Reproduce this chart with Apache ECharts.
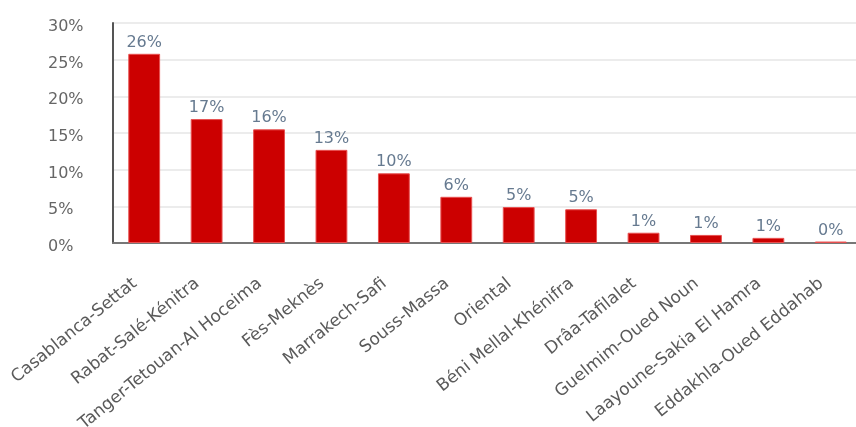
<!DOCTYPE html>
<html><head><meta charset="utf-8">
<script src="https://cdn.jsdelivr.net/npm/echarts@6/dist/echarts.min.js"></script>
<style>html,body{margin:0;padding:0;background:#fff}#c{width:856px;height:427px}</style>
</head><body><div id="c"></div>
<script>
const categories = ["Casablanca-Settat","Rabat-Salé-Kénitra","Tanger-Tetouan-Al Hoceima","Fès-Meknès","Marrakech-Safi","Souss-Massa","Oriental","Béni Mellal-Khénifra","Drâa-Tafilalet","Guelmim-Oued Noun","Laayoune-Sakia El Hamra","Eddakhla-Oued Eddahab"];
const values = [25.8, 16.9, 15.5, 12.7, 9.5, 6.3, 4.9, 4.6, 1.4, 1.1, 0.7, 0.2];
const yTicks = [0, 5, 10, 15, 20, 25, 30];

const chart = echarts.init(document.getElementById('c'));
chart.setOption({
  animation: false,
  grid: { left: 113, right: -6, top: 23, bottom: 184, containLabel: false, outerBoundsMode: 'none' },
  xAxis: {
    type: 'category', data: categories,
    axisLine: { lineStyle: { color: '#777', width: 2 } },
    axisTick: { show: false },
    axisLabel: { rotate: 39, color: '#5a5a5a', fontSize: 17, fontFamily: 'DejaVu Sans', margin: 31, interval: 0, padding: [0, 12, 0, 0] }
  },
  yAxis: {
    type: 'value', min: yTicks[0], max: yTicks[yTicks.length-1], interval: 5,
    axisLine: { show: true, lineStyle: { color: '#555', width: 2 } },
    axisTick: { show: false },
    splitLine: { lineStyle: { color: '#ececec', width: 2 } },
    axisLabel: { formatter: v => v + '%', color: '#666', fontSize: 16, fontFamily: 'DejaVu Sans', margin: 65, align: 'left', verticalAlign: 'top', lineHeight: 8 }
  },
  series: [{
    type: 'bar', data: values, barWidth: '51%',
    itemStyle: { color: '#cc0000', borderColor: '#e85050', borderWidth: 1 },
    label: { show: true, position: 'top', formatter: p => Math.round(p.value) + '%', color: '#667a90', fontSize: 16, fontFamily: 'DejaVu Sans', distance: 3 }
  }]
});
</script></body></html>
